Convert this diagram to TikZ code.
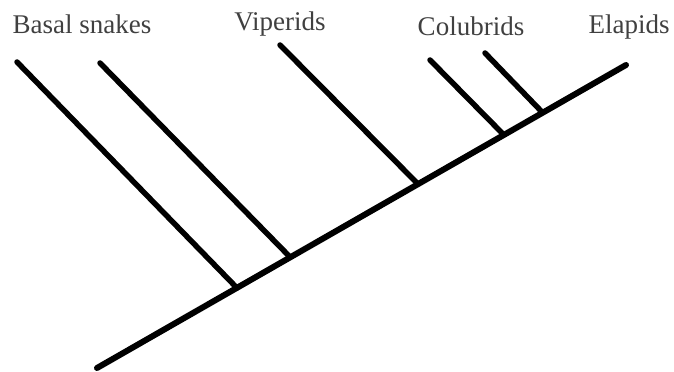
\documentclass[tikz,border=0pt]{standalone}
\usepackage{fontspec}
\setmainfont{Liberation Serif}
\usetikzlibrary{calc}
\tikzset{
  stem/.style={line width=2.4pt, line cap=round},
  branch/.style={line width=2.2pt, line cap=round},
  taxon/.style={text=black!75, font=\fontsize{10.8}{13}\selectfont, inner sep=0pt}
}

\begin{document}
\begin{tikzpicture}[x=0.4pt,y=-0.4pt]
    \useasboundingbox (0,0) rectangle (674,372);

    % main stem
    \coordinate (root) at (97,368);
    \coordinate (crown) at (626,65);
    \draw[stem] (root) -- (crown);

    % junctions along the stem
    \coordinate (jbasalA) at (237,288);
    \coordinate (jbasalB) at (290,257);
    \coordinate (jviper) at (418,184);
    \coordinate (jcolub) at (503,134);
    \coordinate (jelap) at (542,112);

    % branch tips
    \coordinate (tbasalA) at (17,62);
    \coordinate (tbasalB) at (100,63);
    \coordinate (tviper) at (280,45);
    \coordinate (tcolub) at (430,60);
    \coordinate (telap) at (485,53);

    \draw[branch] (tbasalA) -- (jbasalA);
    \draw[branch] (tbasalB) -- (jbasalB);
    \draw[branch] (tviper) -- (jviper);
    \draw[branch] (tcolub) -- (jcolub);
    \draw[branch] (telap) -- (jelap);

    % labels
    \node[taxon] (basal) at (82,24) {Basal snakes};
    \node[taxon] (viper) at (280,24) {Viperids};
    \node[taxon] (colub) at (471,26) {Colubrids};
    \node[taxon] (elap) at (629,27) {Elapids};
\end{tikzpicture}
\end{document}
